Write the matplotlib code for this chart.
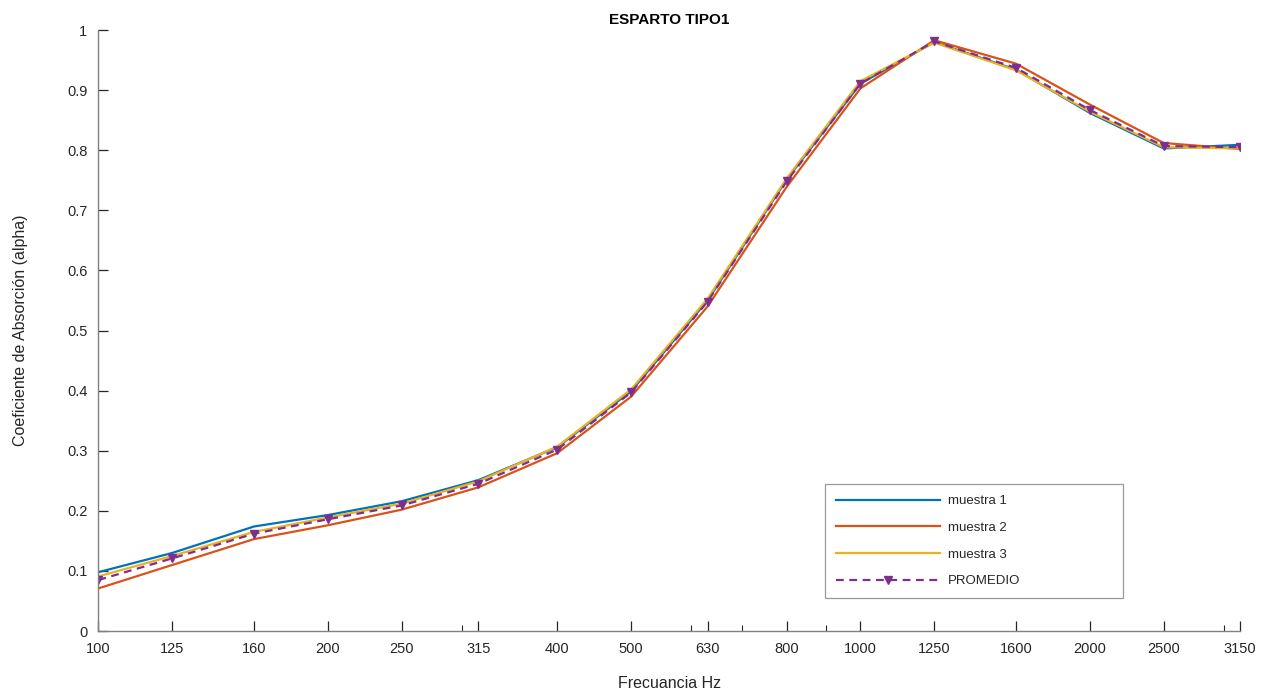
import matplotlib
matplotlib.use("Agg")
import matplotlib.pyplot as plt
from matplotlib.ticker import FixedLocator, LogLocator, NullFormatter

plt.rcParams['font.family'] = ['Liberation Sans', 'DejaVu Sans']

frecuencias = [100, 125, 160, 200, 250, 315, 400, 500, 630, 800, 1000, 1250, 1600, 2000, 2500, 3150]
etiquetas = ['100', '125', '160', '200', '250', '315', '400', '500', '630', '800',
             '1000', '1250', '1600', '2000', '2500', '3150']

muestra1 = [0.098, 0.130, 0.174, 0.193, 0.216, 0.251, 0.306, 0.399, 0.550, 0.751,
            0.911, 0.980, 0.934, 0.862, 0.803, 0.809]
muestra2 = [0.071, 0.110, 0.153, 0.176, 0.202, 0.239, 0.296, 0.390, 0.540, 0.739,
            0.903, 0.983, 0.944, 0.876, 0.812, 0.802]
muestra3 = [0.091, 0.125, 0.165, 0.189, 0.212, 0.249, 0.307, 0.402, 0.553, 0.753,
            0.915, 0.979, 0.933, 0.864, 0.805, 0.803]
promedio = [0.085, 0.121, 0.162, 0.186, 0.209, 0.245, 0.302, 0.397, 0.548, 0.748,
            0.911, 0.981, 0.937, 0.867, 0.807, 0.805]

gris = '#262626'

fig = plt.figure(figsize=(12.72, 6.95), dpi=100)
ax = fig.add_axes([0.0774, 0.092, 0.8976, 0.8648])

ax.plot(frecuencias, muestra1, color='#0072BD', lw=1.6, label='muestra 1')
ax.plot(frecuencias, muestra2, color='#D95319', lw=1.6, label='muestra 2')
ax.plot(frecuencias, muestra3, color='#EDB120', lw=1.6, label='muestra 3')
ax.plot(frecuencias, promedio, color='#7E2F8E', lw=1.6, ls=(0, (3.5, 2.5)),
        marker='v', markersize=6, label='PROMEDIO')

ax.set_xscale('log')
ax.set_xlim(100, 3150)
ax.set_ylim(0, 1)
ax.xaxis.set_major_locator(FixedLocator(frecuencias))
ax.set_xticklabels(etiquetas)
ax.xaxis.set_minor_locator(LogLocator(base=10, subs=range(2, 10)))
ax.xaxis.set_minor_formatter(NullFormatter())
ax.set_yticks([i / 10 for i in range(11)])
ax.set_yticklabels(['0', '0.1', '0.2', '0.3', '0.4', '0.5', '0.6', '0.7', '0.8', '0.9', '1'])

for s in ['top', 'right']:
    ax.spines[s].set_visible(False)
for s in ['left', 'bottom']:
    ax.spines[s].set_color('#808080')
    ax.spines[s].set_linewidth(1.0)

ax.tick_params(axis='both', which='major', direction='in', length=7, width=0.9,
               color=gris, labelsize=10.5, labelcolor=gris, pad=8)
ax.tick_params(axis='x', which='minor', direction='in', length=4, width=0.8, color=gris)

ax.set_title('ESPARTO TIPO1', fontsize=11, fontweight='bold', color='black', pad=4)
ax.set_xlabel('Frecuancia Hz', fontsize=11.5, color=gris, labelpad=14)
ax.set_ylabel('Coeficiente de Absorción (alpha)', fontsize=11.5, color=gris, labelpad=28)

leg = ax.legend(loc='lower left', bbox_to_anchor=(0.6364, 0.055, 0.261, 0.19),
                mode='expand', numpoints=1, handlelength=7.9, handletextpad=0.6,
                labelspacing=1.1, fontsize=9.5, frameon=True, fancybox=False,
                borderpad=0.8, borderaxespad=0)
leg.get_frame().set_edgecolor('#808080')
leg.get_frame().set_linewidth(0.9)
for t in leg.get_texts():
    t.set_color(gris)

fig.savefig('out.png', dpi=100)
